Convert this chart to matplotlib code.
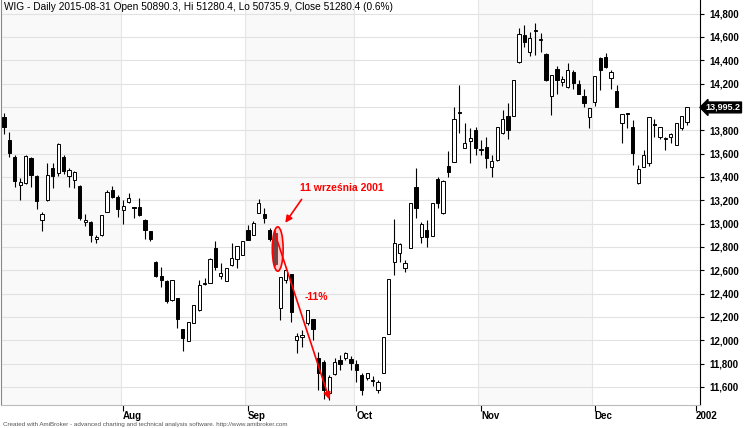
import matplotlib
matplotlib.use("Agg")
import matplotlib.pyplot as plt
from matplotlib.patches import Ellipse
import numpy as np

plt.rcParams['font.family'] = ['Liberation Sans', 'DejaVu Sans']

opens = [13913,13716,13571,13331,13348,13562,13408,13030,13202,13476,13433,13571,13408,13373,13322,13013,13013,12868,12902,13099,
         13288,13228,13116,13185,13133,13142,13030,12936,12671,12551,12508,12345,12362,12096,11994,12148,12259,12480,12491,12791,
         12551,12508,12645,12697,12731,12945,12902,13090,13082,12945,12919,12276,12517,12568,12002,12028,12148,12182,11848,11814,
         11548,11711,11831,11848,11840,11797,11702,11677,11652,11574,11720,12054,12671,12748,12620,12791,13313,12885,12945,12894,
         13382,13090,13493,13527,13948,13648,13708,13802,13630,13656,13485,13545,13776,13922,13922,14385,14616,14470,14650,14573,
         14453,14093,14325,14213,14170,14299,14196,14093,13913,14042,14419,14428,14248,14136,13862,13939,13828,13348,13485,13519,
         13855,13742,13725,13742,13673,13819,13870]
highs = [13948,13785,13588,13391,13588,13571,13416,13099,13519,13519,13690,13588,13476,13451,13330,13082,13020,12902,13073,13288,
         13322,13245,13202,13262,13142,13219,13035,12940,12675,12628,12517,12520,12365,12100,12160,12305,12517,12534,12705,12851,
         12662,12620,12834,12808,12851,12988,13022,13211,13133,12962,12945,12542,12628,12570,12062,12088,12260,12185,11900,11831,
         11702,11848,11874,11900,11865,11831,11720,11720,11694,11660,11725,12060,13039,12834,12688,12800,13476,13013,13030,12900,
         13399,13370,13622,13999,14188,13862,13819,13828,13716,13742,13588,13830,13973,14033,14230,14676,14702,14642,14719,14633,
         14460,14273,14350,14265,14376,14316,14230,14153,13990,14265,14428,14462,14316,14188,13940,13948,13888,13502,13630,13915,
         13896,13830,13742,13776,13862,13925,13999]
lows = [13768,13571,13313,13202,13340,13313,13125,12936,13195,13305,13408,13425,13313,13305,13030,12979,12842,12834,12895,13095,
        13219,13056,12996,13180,13047,13065,12868,12850,12542,12457,12319,12340,12105,11907,11990,12145,12251,12474,12488,12602,
        12525,12505,12637,12620,12728,12902,12898,13088,13005,12851,12637,12174,12491,12156,11891,11942,12130,12002,11574,11497,
        11488,11705,11745,11830,11745,11642,11531,11660,11608,11548,11715,12050,12559,12671,12585,12788,13047,12834,12800,12890,
        13133,13085,13399,13525,13776,13645,13519,13588,13588,13476,13399,13540,13770,13725,13920,14380,14513,14436,14445,14470,
        14222,13930,14110,14179,14162,14153,14110,13999,13819,14007,14145,14333,14153,13999,13691,13819,13502,13339,13483,13493,
        13742,13725,13630,13691,13670,13802,13845]
closes = [13828,13605,13365,13356,13579,13416,13193,13082,13416,13408,13680,13451,13459,13442,13047,13030,12902,12885,13073,13271,
          13228,13125,13151,13219,13130,13073,12945,12868,12551,12517,12336,12517,12182,12019,12156,12302,12474,12485,12697,12628,
          12577,12620,12705,12808,12851,12859,13005,13176,13047,12868,12654,12542,12602,12242,12036,12045,12259,12096,11720,11574,
          11685,11814,11797,11891,11805,11745,11574,11715,11655,11642,12028,12525,12834,12825,12662,13176,13133,12996,12885,13176,
          13176,13365,13442,13896,13945,13691,13733,13648,13632,13562,13536,13828,13896,13802,14230,14625,14556,14590,14652,14575,
          14230,14273,14230,14239,14316,14205,14110,14033,13990,14265,14316,14342,14299,13999,13939,13936,13605,13468,13588,13913,
          13845,13828,13728,13768,13862,13922,13995.2]
month_labels = ["Aug", "Sep", "Oct", "Nov", "Dec", "2002"]
month_starts = [22, 45, 65, 88, 109, 127.6]
yticks = list(range(11600, 14801, 200))
title = "WIG - Daily 2015-08-31 Open 50890.3, Hi 51280.4, Lo 50735.9, Close 51280.4 (0.6%)"

fig = plt.figure(figsize=(7.44, 4.28), dpi=100)
ax = fig.add_axes([1/744, 1 - 405/428, 699/744, 405/428])
ax.set_xlim(-0.55, 128.4)
ax.set_ylim(11445, 14916)

bounds = [-0.55] + [m - 0.5 for m in month_starts[:5]] + [128.4]
for k in range(len(bounds) - 1):
    if k % 2 == 0:
        ax.axvspan(bounds[k], bounds[k+1], color='#f9f9f9', zorder=0, lw=0)
for b in bounds[1:-1]:
    ax.axvline(b, color='#e6e6e6', lw=0.8, zorder=0.5)
for yv in yticks:
    ax.axhline(yv, color='#e2e2e2', lw=0.8, zorder=0.5)

x = np.arange(len(closes))
o = np.array(opens, float); c = np.array(closes, float)
ax.vlines(x, lows, highs, color='black', lw=0.8, zorder=2)
up = c >= o
bot = np.minimum(o, c); hgt = np.maximum(np.abs(c - o), 8)
ax.bar(x[up], hgt[up], bottom=bot[up], width=0.6, facecolor='white', edgecolor='black', lw=0.7, zorder=3)
ax.bar(x[~up], hgt[~up], bottom=bot[~up], width=0.6, facecolor='black', edgecolor='black', lw=0.7, zorder=3)

ax.add_patch(Ellipse((50.5, 12782), 2.0, 380, facecolor=(1, 0.6, 0.6, 0.45), edgecolor='red', lw=1.2, zorder=4))
ax.annotate("", xy=(51.6, 12987), xytext=(55.2, 13227),
            arrowprops=dict(arrowstyle='-|>', color='red', lw=1.2, mutation_scale=10), zorder=5)
ax.text(62.4, 13305, "11 września 2001", color='red', fontsize=7.5, fontweight='bold', ha='center', va='center')
ax.annotate("", xy=(60.2, 11470), xytext=(49.9, 12927),
            arrowprops=dict(arrowstyle='-|>', color='red', lw=1.2, mutation_scale=10), zorder=5)
ax.text(57.6, 12370, "-11%", color='red', fontsize=7.5, fontweight='bold', ha='center', va='center')

ax.yaxis.tick_right()
ax.set_yticks(yticks)
ax.set_yticklabels([f"{v:,}" for v in yticks], fontsize=7, fontweight='bold')
ax.tick_params(axis='y', length=3, pad=4)
ax.set_xticks(month_starts)
ax.set_xticklabels(month_labels, fontsize=7, fontweight='bold', ha='left')
ax.tick_params(axis='x', length=4, pad=0)
ax.spines['top'].set_visible(False)
ax.spines['left'].set_color('#888888')
ax.spines['bottom'].set_color('#bbbbbb')
ax.spines['right'].set_color('black')

ax.annotate(f"{closes[-1]:,.1f}", xy=(1.0, closes[-1]), xycoords=('axes fraction', 'data'),
            xytext=(4, 0), textcoords='offset points', color='white', fontsize=6.5, fontweight='bold',
            va='center', ha='left', bbox=dict(boxstyle='larrow,pad=0.1', fc='black', ec='black'), zorder=10,
            annotation_clip=False)

ax.text(0.004, 0.995, title, transform=ax.transAxes, fontsize=7.3, va='top', ha='left')
fig.text(0.004, 0.002, "Created with AmiBroker - advanced charting and technical analysis software. http://www.amibroker.com",
         fontsize=4.5, color='#555555', ha='left', va='bottom')

fig.savefig("out.png", dpi=100)
